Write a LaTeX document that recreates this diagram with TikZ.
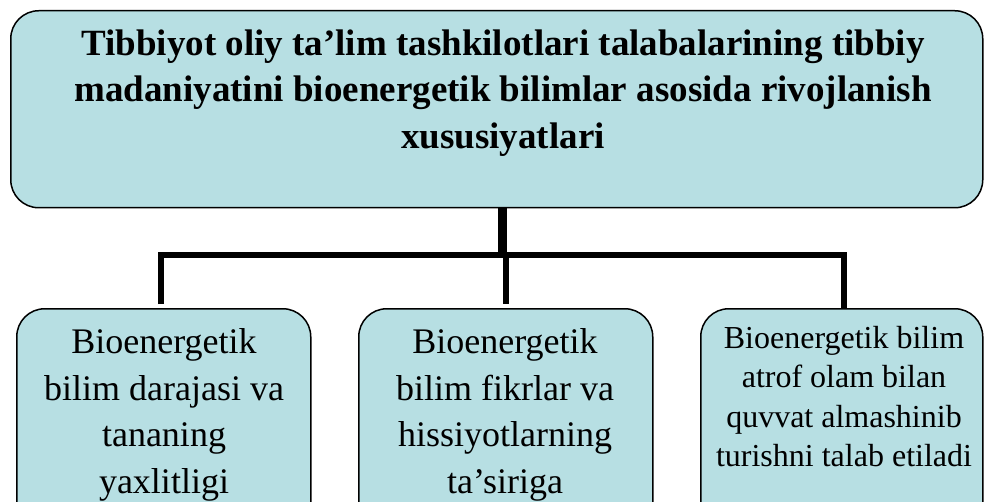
\documentclass[tikz,border=0pt]{standalone}
\usepackage{fontspec}
\setmainfont{Liberation Serif}
\definecolor{boxfill}{RGB}{183,223,227}
\begin{document}
\begin{tikzpicture}[x=1pt,y=-1pt,
  box/.style={draw=black, line width=1.5pt, fill=boxfill, rounded corners=28pt, inner sep=0pt},
  titletxt/.style={align=center, inner sep=0pt, font=\fontsize{37}{46.5}\selectfont\bfseries},
  subtxt/.style={align=center, inner sep=0pt, font=\fontsize{36}{46.5}\selectfont},
  smalltxt/.style={align=center, inner sep=0pt, font=\fontsize{32}{39.5}\selectfont},
  conn/.style={draw=black, line width=6pt, line join=miter},
  trunk/.style={draw=black, line width=9pt}]
\useasboundingbox (0,0) rectangle (984,502);
\clip (0,0) rectangle (984,502);
% top box
\node[box, minimum width=972pt, minimum height=197pt, anchor=north west] (top) at (10,10) {};
\node[titletxt, anchor=north] (toptext) at (503,29.5)
  {Tibbiyot oliy ta’lim tashkilotlari talabalarining tibbiy\\
   madaniyatini bioenergetik bilimlar asosida rivojlanish\\
   xususiyatlari};
% bottom boxes
\node[box, minimum width=294pt, minimum height=240pt, anchor=north west] (b1) at (16,308) {};
\node[box, minimum width=294pt, minimum height=240pt, anchor=north west] (b2) at (358,308) {};
\node[box, minimum width=282pt, minimum height=240pt, anchor=north west] (b3) at (700,308) {};
\node[subtxt, anchor=north] (t1) at (164,328.5)
  {Bioenergetik\\ bilim darajasi va\\ tananing\\ yaxlitligi};
\node[subtxt, anchor=north] (t2) at (505,328.5)
  {Bioenergetik\\ bilim fikrlar va\\ hissiyotlarning\\ ta’siriga};
\node[smalltxt, anchor=north] (t3) at (844,326)
  {Bioenergetik bilim\\ atrof olam bilan\\ quvvat almashinib\\ turishni talab etiladi};
% connectors
\coordinate (j) at (502,255);
\draw[trunk] (j |- top.south) -- (j);
\draw[conn, shorten <=4pt] ([xshift=-3pt]b1.north) -- ([xshift=-3pt]b1.north |- j) -- ([xshift=2pt]b3.north |- j) -- ([xshift=2pt]b3.north);
\draw[conn, shorten >=4pt] (b2.north |- j) -- (b2.north);
\end{tikzpicture}
\end{document}
